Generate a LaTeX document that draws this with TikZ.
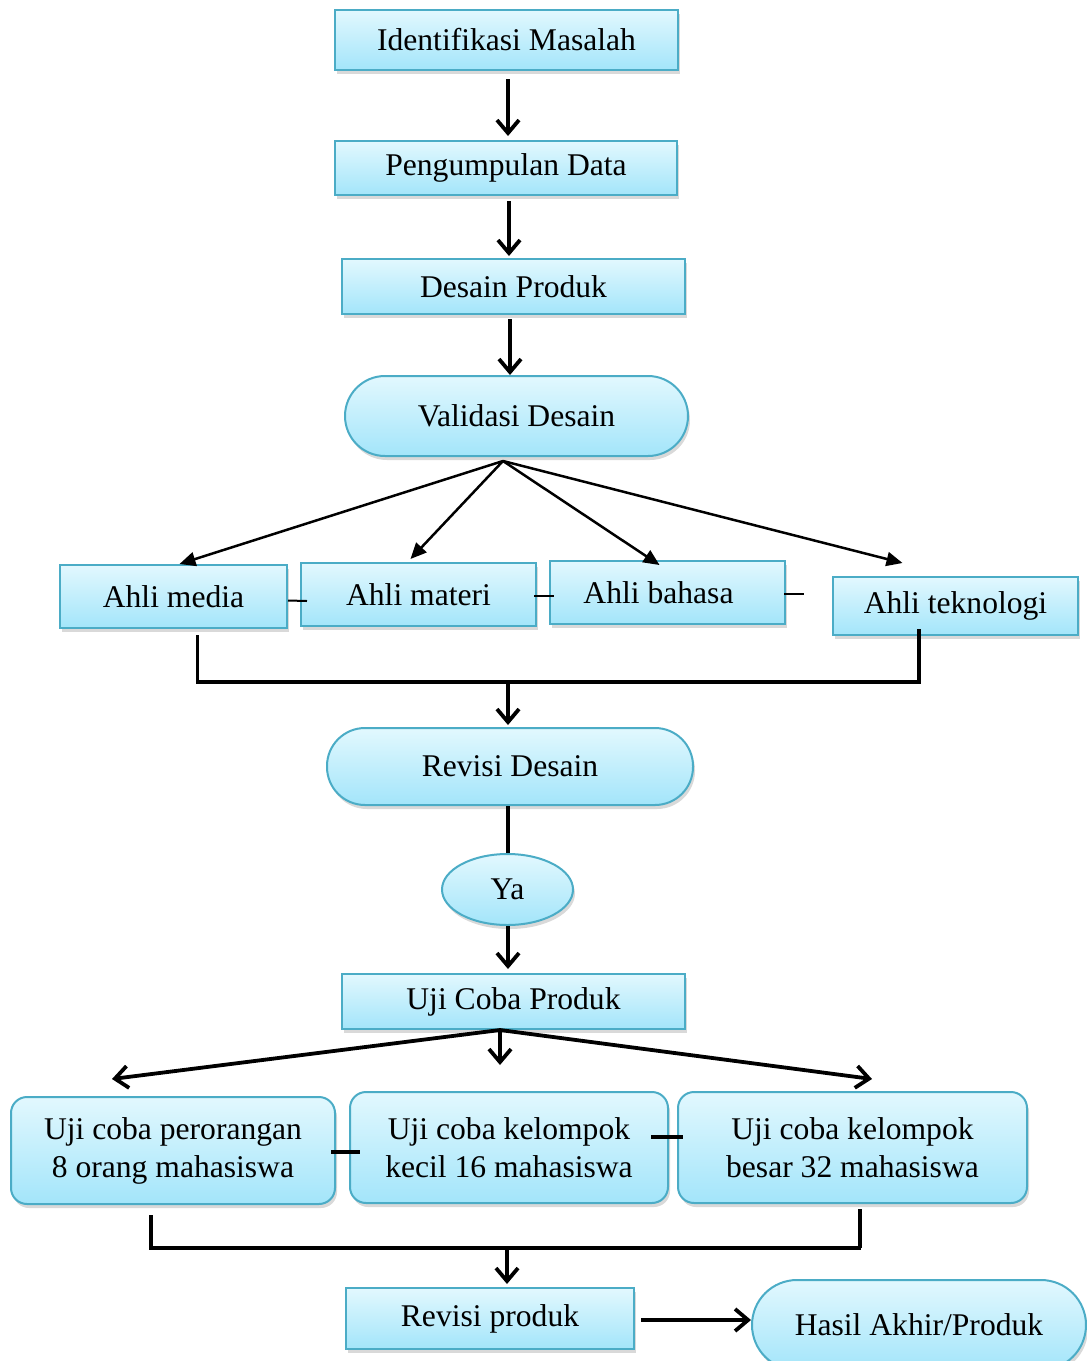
\documentclass[tikz,border=0pt]{standalone}
\usepackage{fontspec}
\setmainfont{Liberation Serif}
\usetikzlibrary{arrows.meta,shadows,shapes.geometric}
\definecolor{boxtop}{HTML}{E2F8FE}
\definecolor{boxbot}{HTML}{A3E5FA}
\definecolor{boxline}{HTML}{4BACC6}
\tikzset{
  flow/.style={draw=boxline, line width=1pt, top color=boxtop, bottom color=boxbot,
    inner sep=0pt, align=center, font=\fontsize{15.8}{19}\selectfont,
    drop shadow={shadow xshift=1pt, shadow yshift=-2pt, opacity=0.3}},
  box/.style={flow, rectangle},
  pill/.style={flow, rectangle, rounded corners=#1},
  oval/.style={flow, ellipse},
  arr/.style={-{Straight Barb[length=6.5pt,width=11pt]}, line width=1.9pt},
  fan/.style={-{Triangle[length=8pt,width=7pt]}, line width=1.25pt},
  bar/.style={line width=1.9pt},
  tick/.style={line width=1pt}
}
\begin{document}
\begin{tikzpicture}[x=0.5pt, y=-0.5pt]
\useasboundingbox (0,0) rectangle (1087,1361);
% nodes
\node[box, minimum width=171.5pt, minimum height=30pt] (ident) at (506.5,40) {Identifikasi Masalah};
\node[box, minimum width=171pt, minimum height=27pt] (kumpul) at (506,168) {Pengumpulan Data};
\node[box, minimum width=171.5pt, minimum height=27.5pt] (desain) at (513.5,286.5) {Desain Produk};
\node[pill=20pt, minimum width=171.5pt, minimum height=40pt] (valid) at (516.5,416) {Validasi Desain};
\node[box, minimum width=113.5pt, minimum height=31.5pt] (media) at (173.5,596.5) {Ahli media};
\node[box, minimum width=117.5pt, minimum height=31.5pt] (materi) at (418.5,594.5) {Ahli materi};
\node[box, minimum width=117.5pt, minimum height=31.5pt] (bahasa) at (667.5,592.5) {Ahli bahasa\hspace{9pt}};
\node[box, minimum width=122.5pt, minimum height=29pt] (tekno) at (955.5,606) {Ahli teknologi};
\node[pill=19pt, minimum width=183pt, minimum height=38.5pt] (revdes) at (510,766.5) {Revisi Desain};
\node[oval, minimum width=65.5pt, minimum height=35.5pt] (ya) at (507.5,889.5) {Ya};
\node[box, minimum width=171.5pt, minimum height=27.5pt] (ujicoba) at (513.5,1001.5) {Uji Coba Produk};
\node[pill=8pt, minimum width=162pt, minimum height=53.5pt] (orang) at (173,1150.5) {Uji coba perorangan\\8 orang mahasiswa};
\node[pill=8pt, minimum width=159pt, minimum height=55.5pt] (kecil) at (509,1147.5) {Uji coba kelompok\\kecil 16 mahasiswa};
\node[pill=8pt, minimum width=174.5pt, minimum height=55.5pt] (besar) at (852.5,1147.5) {Uji coba kelompok\\besar 32 mahasiswa};
\node[box, minimum width=144pt, minimum height=30.5pt] (revprod) at (490,1318.5) {Revisi produk};
\node[pill=22.5pt, minimum width=167pt, minimum height=45pt] (hasil) at (919,1325) {Hasil Akhir/Produk};
% top chain
\draw[arr] ([xshift=0.75pt,yshift=-4pt]ident.south) -- ([xshift=1pt,yshift=2pt]kumpul.north);
\draw[arr] ([xshift=1.5pt,yshift=-2.5pt]kumpul.south) -- ([xshift=-2.25pt,yshift=1pt]desain.north);
\draw[arr] ([xshift=-1.75pt,yshift=-2pt]desain.south) -- ([xshift=-3.25pt]valid.north);
% validation fan
\coordinate (vs) at (503,461);
\draw[fan] (vs) -- ([xshift=3pt]media.north);
\draw[fan] (vs) -- ([xshift=-4pt,yshift=1.5pt]materi.north);
\draw[fan] (vs) -- ([xshift=-4pt,yshift=-2.5pt]bahasa.north);
\draw[fan] (vs) -- ([xshift=-26.5pt,yshift=6.5pt]tekno.north);
\draw[tick] ([yshift=-2pt]media.east) -- ([xshift=3.5pt,yshift=-3.25pt]materi.west);
\draw[tick] ([xshift=-1.5pt,yshift=-0.75pt]materi.east) -- ([xshift=2.5pt,yshift=-1.75pt]bahasa.west);
\draw[tick] ([xshift=-1pt,yshift=-0.75pt]bahasa.east) -- ([xshift=-14pt,yshift=6pt]tekno.west);
% join to revision
\coordinate (ja) at (508,682);
\draw[bar] ([xshift=12pt,yshift=-3pt]media.south) |- (ja) -| ([xshift=-18.25pt,yshift=3.5pt]tekno.south);
\draw[arr] (ja) -- ([xshift=-1pt,yshift=1pt]revdes.north);
\draw[bar] ([xshift=-1pt]revdes.south) -- ([xshift=0.25pt]ya.north);
\draw[arr] ([xshift=0.25pt]ya.south) -- ([xshift=-2.75pt,yshift=2pt]ujicoba.north);
% trial fan
\coordinate (us) at (500,1030);
\draw[arr] (us) -- ([xshift=-30.5pt,yshift=8.5pt]orang.north);
\draw[arr] (us) -- ([xshift=-4.5pt,yshift=13pt]kecil.north);
\draw[arr] (us) -- ([xshift=9.75pt,yshift=6pt]besar.north);
\draw[bar] ([xshift=-2.5pt,yshift=-0.75pt]orang.east) -- ([xshift=5.5pt,yshift=-2.25pt]kecil.west);
\draw[bar] ([xshift=-9pt,yshift=5.25pt]kecil.east) -- ([xshift=3pt,yshift=5.25pt]besar.west);
% join to product revision
\coordinate (jb) at (507,1248);
\draw[bar] ([xshift=-11pt,yshift=-5pt]orang.south) |- ([xshift=4pt]jb -| besar.south);
\draw[bar] ([xshift=3.75pt,yshift=-2.5pt]besar.south) -- ([xshift=3.75pt]jb -| besar.south);
\draw[arr] (jb) -- ([yshift=1.5pt]jb |- revprod.north);
\draw[arr] ([xshift=3pt,yshift=-0.75pt]revprod.east) -- ([yshift=2.5pt]hasil.west);
\end{tikzpicture}
\end{document}
